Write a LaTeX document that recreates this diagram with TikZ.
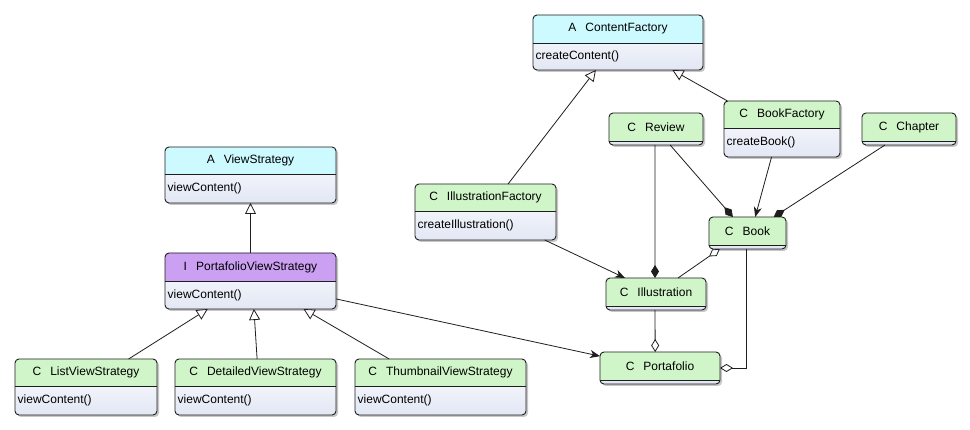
\documentclass[tikz,border=0pt]{standalone}
\usepackage{fontspec}
\setmainfont{Liberation Sans}
\usetikzlibrary{arrows.meta,calc,fit}
\definecolor{hgreen}{RGB}{208,245,200}
\definecolor{hcyan}{RGB}{204,250,255}
\definecolor{hpurple}{RGB}{203,160,243}
\definecolor{bodyblue}{RGB}{226,231,244}
\definecolor{linecol}{RGB}{30,30,30}
\tikzset{
  boxline/.style={draw=linecol, line width=0.9pt},
  conn/.style={draw=linecol, line width=0.8pt},
  gen/.style={conn, -{Triangle[open, length=11pt, width=11pt, fill=white]}},
  comp/.style={conn, -{Diamond[length=13pt, width=8pt]}},
  aggr/.style={conn, -{Diamond[open, length=13pt, width=8pt, fill=white]}},
  assoc/.style={conn, -{Stealth[length=10pt, width=8pt, inset=3pt]}},
  titletext/.style={font=\fontsize{12}{14}\selectfont, inner sep=0pt},
  methtext/.style={font=\fontsize{12}{14}\selectfont, inner sep=2.5pt, anchor=west},
}
% #1 name, #2 nw, #3 se, #4 header bottom y, #5 colour, #6 letter, #7 title, #8 method
\newcommand\umlclass[8]{%
  \coordinate (#1-nw) at (#2);
  \coordinate (#1-se) at (#3);
  \coordinate (#1-h) at (0,#4);
  \fill[black!22, rounded corners=4pt] ($(#1-nw)+(2,2)$) rectangle ($(#1-se)+(2,2)$);
  \shade[top color=white, bottom color=bodyblue, rounded corners=4pt] (#1-nw) rectangle (#1-se);
  \fill[#5] (#1-nw |- #1-h) {[rounded corners=4pt] -- (#1-nw) -- (#1-se |- #1-nw)} -- (#1-se |- #1-h) -- cycle;
  \draw[boxline] (#1-nw |- #1-h) -- (#1-se |- #1-h);
  \draw[boxline, rounded corners=4pt] (#1-nw) rectangle (#1-se);
  \node[fit=(#1-nw)(#1-se), inner sep=0pt, outer sep=0pt] (#1) {};
  \node[titletext] (#1-t) at ($(#1-nw)!0.5!(#1-se |- #1-h)$) {#6\hspace{9pt}#7};
  \if\relax\detokenize{#8}\relax\else
  \node[methtext] (#1-m) at ($(#1-nw |- #1-h)!0.5!(#1-nw |- #1-se)$) {#8};
  \fi
}
\begin{document}
\begin{tikzpicture}[x=1pt,y=-1pt]
\useasboundingbox (0,0) rectangle (970,430);
\fill[white] (0,0) rectangle (970,430);

\umlclass{cf}{533,15}{703,70}{43}{hcyan}{A}{ContentFactory}{createContent()}
\umlclass{bf}{724,101}{840,157}{128}{hgreen}{C}{BookFactory}{createBook()}
\umlclass{rev}{609,113}{703,145}{141}{hgreen}{C}{Review}{}
\umlclass{chap}{862,113}{956,145}{141}{hgreen}{C}{Chapter}{}
\umlclass{if}{415,184}{556,240}{211}{hgreen}{C}{IllustrationFactory}{createIllustration()}
\umlclass{book}{709,217}{786,249}{245}{hgreen}{C}{Book}{}
\umlclass{ill}{606,278}{706,310}{306}{hgreen}{C}{Illustration}{}
\umlclass{port}{600,352}{720,384}{380}{hgreen}{C}{Portafolio}{}
\umlclass{vs}{165,147}{336,203}{174}{hcyan}{A}{ViewStrategy}{viewContent()}
\umlclass{pvs}{165,253}{336,309}{281}{hpurple}{I}{PortafolioViewStrategy}{viewContent()}
\umlclass{lvs}{15,359}{157,415}{386}{hgreen}{C}{ListViewStrategy}{viewContent()}
\umlclass{dvs}{175,359}{336,415}{386}{hgreen}{C}{DetailedViewStrategy}{viewContent()}
\umlclass{tvs}{355,359}{526,415}{386}{hgreen}{C}{ThumbnailViewStrategy}{viewContent()}

% generalizations
\draw[gen] ($(if.north west)!0.66!(if.north east)$) -- ($(cf.south west)!0.37!(cf.south east)$);
\draw[gen] ($(bf.north west)!0.03!(bf.north east)$) -- ($(cf.south west)!0.82!(cf.south east)$);
\draw[gen] ($(pvs.north west)!0.5!(pvs.north east)$) -- ($(vs.south west)!0.5!(vs.south east)$);
\draw[gen] ($(lvs.north west)!0.8!(lvs.north east)$) -- ($(pvs.south west)!0.25!(pvs.south east)$);
\draw[gen] ($(dvs.north west)!0.51!(dvs.north east)$) -- ($(pvs.south west)!0.52!(pvs.south east)$);
\draw[gen] ($(tvs.north west)!0.2!(tvs.north east)$) -- ($(pvs.south west)!0.81!(pvs.south east)$);

% compositions
\draw[comp] ($(rev.south west)!0.65!(rev.south east)$) -- ($(book.north west)!0.31!(book.north east)$);
\draw[comp] ($(rev.south west)!0.49!(rev.south east)$) -- ($(ill.north west)!0.49!(ill.north east)$);
\draw[comp] ($(chap.south west)!0.245!(chap.south east)$) -- ($(book.north west)!0.84!(book.north east)$);

% aggregations
\draw[aggr] ($(ill.north west)!0.72!(ill.north east)$) -- ($(book.south west)!0.14!(book.south east)$);
\draw[aggr] ($(ill.south west)!0.49!(ill.south east)$) -- ($(port.north west)!0.46!(port.north east)$);
\draw[aggr] ($(book.south west)!0.49!(book.south east)$) |- (port.east);

% associations
\draw[assoc] ($(bf.south west)!0.41!(bf.south east)$) -- ($(book.north west)!0.6!(book.north east)$);
\draw[assoc] ($(if.south west)!0.92!(if.south east)$) -- ($(ill.north west)!0.19!(ill.north east)$);
\draw[assoc] ($(pvs.north east)!0.82!(pvs.south east)$) -- ($(port.north west)!0.13!(port.south west)$);
\end{tikzpicture}
\end{document}
